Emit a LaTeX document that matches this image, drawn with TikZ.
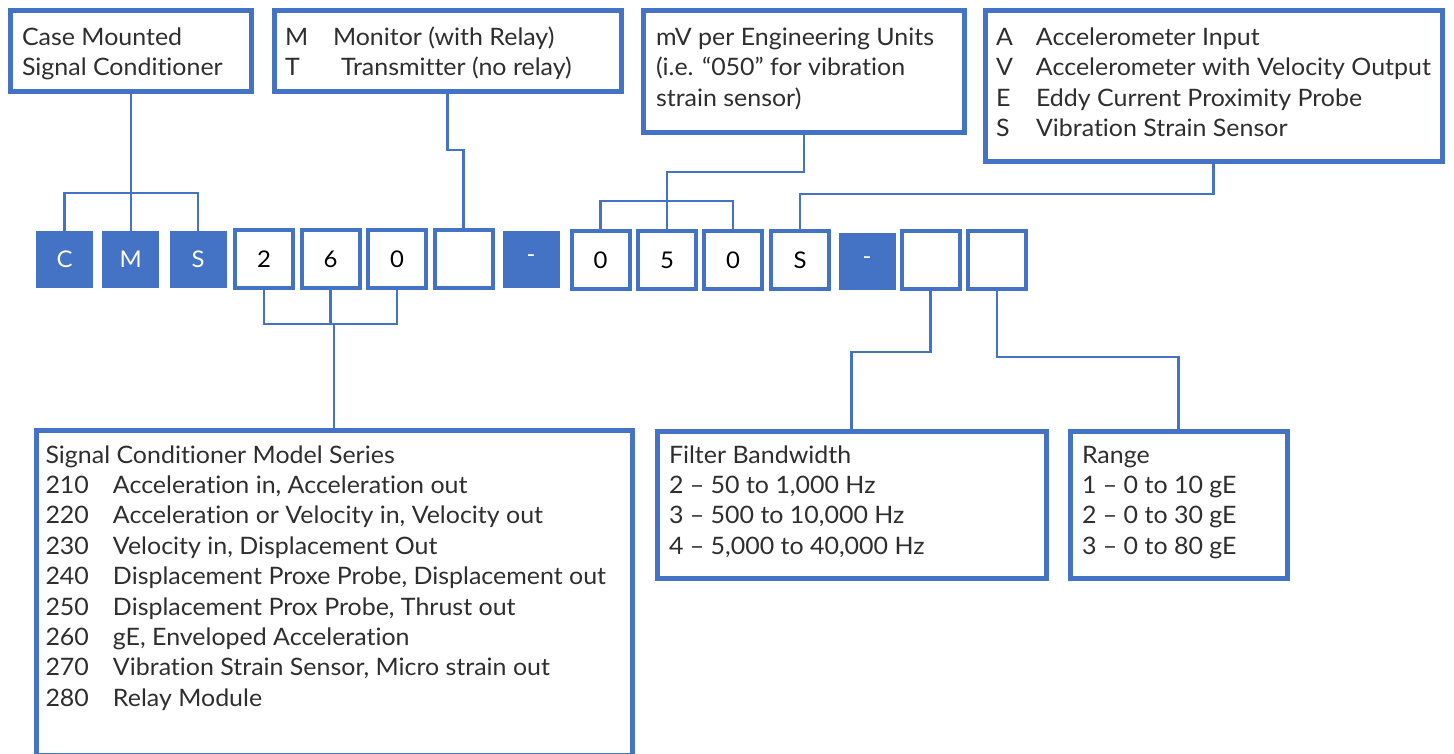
\documentclass[tikz,border=0pt]{standalone}
\usepackage{fontspec}
\setmainfont{Lato}[FakeStretch=1.04,Ligatures=NoCommon]
\definecolor{bl}{HTML}{4472C4}
\definecolor{tx}{HTML}{2E2E2E}
\newcommand\cdfont{\fontsize{23}{27}\selectfont}
\newcommand\txfont{\fontsize{24}{30.4}\selectfont}
\begin{document}
\begin{tikzpicture}[x=1pt,y=-1pt,
  frame/.style={draw=bl,line width=5pt,outer sep=0pt,inner sep=0pt},
  link/.style={draw=bl,line width=2.4pt},
  obox/.style={draw=bl,line width=4pt,minimum width=58pt,minimum height=58pt,inner sep=0pt,outer sep=0pt,text=black,font=\cdfont},
  fbox/.style={fill=bl,minimum width=57pt,minimum height=57pt,inner sep=0pt,outer sep=0pt,text=white,font=\cdfont},
  txt/.style={anchor=base west,inner sep=0pt,outer sep=0pt,text=tx,font=\txfont}]
\useasboundingbox (0,0) rectangle (1454,753);

% description boxes
\node[frame,minimum width=240.5pt,minimum height=81pt] (b1) at (130.75,50.5) {};
\node[frame,minimum width=347pt,minimum height=81pt] (b2) at (447.5,50.5) {};
\node[frame,minimum width=320.5pt,minimum height=122pt] (b3) at (803.75,71) {};
\node[frame,minimum width=457pt,minimum height=151pt] (b4) at (1213.5,85.5) {};
\node[frame,minimum width=595.5pt,minimum height=325pt] (b5) at (334.25,592.5) {};
\node[frame,minimum width=389pt,minimum height=146.5pt] (b6) at (851.5,504.75) {};
\node[frame,minimum width=217pt,minimum height=146.5pt] (b7) at (1178.5,504.75) {};

% texts
\node[txt] (t1) at (22,45.5) {\begin{tabular}[t]{@{}l@{}}Case Mounted\\Signal Conditioner\end{tabular}};
\node[txt] (t2) at (285,45.5) {\begin{tabular}[t]{@{}p{48pt}@{}l@{}}M & Monitor (with Relay)\\T & \hspace{8pt}Transmitter (no relay)\end{tabular}};
\node[txt] (t3) at (656,45.5) {\begin{tabular}[t]{@{}l@{}}mV per Engineering Units\\(i.e. “050” for vibration\\strain sensor)\end{tabular}};
\node[txt] (t4) at (996,45.5) {\begin{tabular}[t]{@{}p{40pt}@{}l@{}}A & Accelerometer Input\\V & Accelerometer with Velocity Output\\E & Eddy Current Proximity Probe\\S & Vibration Strain Sensor\end{tabular}};
\node[txt] (t5) at (45.5,463) {\begin{tabular}[t]{@{}p{67.5pt}@{}l@{}}\multicolumn{2}{@{}l@{}}{Signal Conditioner Model Series}\\
210 & Acceleration in, Acceleration out\\
220 & Acceleration or Velocity in, Velocity out\\
230 & Velocity in, Displacement Out\\
240 & Displacement Proxe Probe, Displacement out\\
250 & Displacement Prox Probe, Thrust out\\
260 & gE, Enveloped Acceleration\\
270 & Vibration Strain Sensor, Micro strain out\\
280 & Relay Module\end{tabular}};
\node[txt] (t6) at (669,463) {\begin{tabular}[t]{@{}l@{}}Filter Bandwidth\\2 – 50 to 1,000 Hz\\3 – 500 to 10,000 Hz\\4 – 5,000 to 40,000 Hz\end{tabular}};
\node[txt] (t7) at (1082,463) {\begin{tabular}[t]{@{}l@{}}Range\\1 – 0 to 10 gE\\2 – 0 to 30 gE\\3 – 0 to 80 gE\end{tabular}};

% code boxes
\node[fbox] (cC) at (64.5,259) {C};
\node[fbox] (cM) at (130.75,259) {M};
\node[fbox] (cS) at (198,259) {S};
\node[obox] (c2) at (264,259) {2};
\node[obox] (c6) at (330.5,259) {6};
\node[obox] (c0) at (397,259) {0};
\node[obox] (e1) at (463.5,259) {};
\node[fbox] (h1) at (531,259) {-};
\node[obox] (d0a) at (600.5,260) {0};
\node[obox] (d5) at (667,260) {5};
\node[obox] (d0b) at (733,260) {0};
\node[obox] (dS) at (800,260) {S};
\node[fbox] (h2) at (867,261) {-};
\node[obox] (e2) at (930.5,260) {};
\node[obox] (e3) at (997,260) {};

% junction points
\coordinate (k1) at (131,193);
\coordinate (k2) at (667,201);
\coordinate (k3) at (334.25,324);

% connectors
\draw[link] (b1.south) -- (b1.south |- cM.north);
\draw[link] (cC.north) |- (k1) -| (cS.north);
\draw[link] (b2.south) -- ++(0,59) -| (e1.north);
\draw[link] (b3.south) -- ++(0,40) -| (d5.north);
\draw[link] (d0a.north) |- (k2) -| (d0b.north);
\draw[link] (b4.south) -- ++(0,33) -| (dS.north);
\draw[link] (c2.south) |- (k3) -| (c0.south);
\draw[link] (c6.south) -- (c6.south |- k3);
\draw[link] (k3) -- (b5.north);
\draw[link] (e2.south) -- ++(0,63) -| (b6.north);
\draw[link] (e3.south) -- ++(0,68) -| (b7.north);
\end{tikzpicture}
\end{document}
